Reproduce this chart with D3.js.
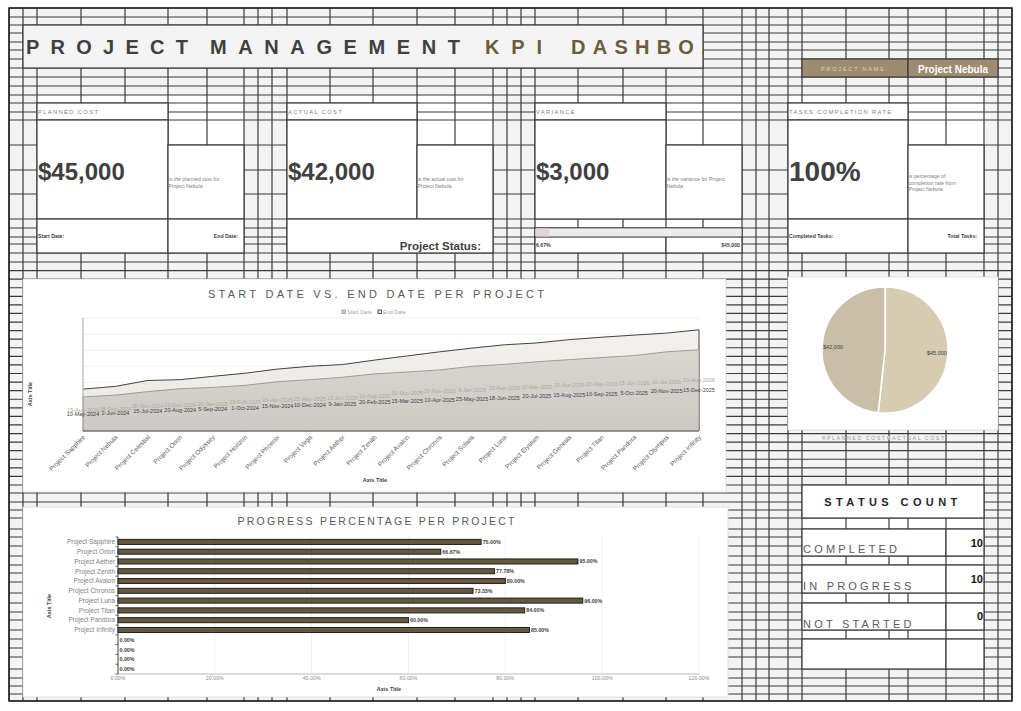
<!DOCTYPE html>
<html><head><meta charset="utf-8">
<script src="https://cdn.jsdelivr.net/npm/d3@7"></script>
<style>body{margin:0;background:#fff;} svg{display:block;font-family:"Liberation Sans",Arial,sans-serif;}</style>
</head><body><svg id="c" width="1021" height="711"></svg>
<script>
// ---------------- DATA ----------------
const titleWords = ["PROJECT", "MANAGEMENT", "KPI", "DASHBOARD"];
const projectName = "Project Nebula";
const kpiTitles = ["PLANNED COST", "ACTUAL COST", "VARIANCE", "TASKS COMPLETION RATE"];
const plannedCost = 45000;
const actualCost = 42000;
const varianceValue = 3000;
const completionRate = 1.0;
const kpiNotes = [["is the planned cost for", "Project Nebula"], ["is the actual cost for", "Project Nebula"],
                  ["is the variance for Project", "Nebula"], ["is percentage of", "completion rate from", "Project Nebula"]];

const areaProjects = ["Project Sapphire","Project Nebula","Project Celestial","Project Orion","Project Odyssey","Project Horizon",
  "Project Phoenix","Project Vega","Project Aether","Project Zenith","Project Avalon","Project Chronos","Project Solaris",
  "Project Luna","Project Elysium","Project Genesis","Project Titan","Project Pandora","Project Olympus","Project Infinity"];
const startDates = ["10-May-2024","2-Jun-2024","15-Jul-2024","20-Aug-2024","5-Sep-2024","1-Oct-2024","15-Nov-2024","10-Dec-2024",
  "9-Jan-2025","20-Feb-2025","15-Mar-2025","10-Apr-2025","25-May-2025","18-Jun-2025","20-Jul-2025","15-Aug-2025","10-Sep-2025",
  "5-Oct-2025","20-Nov-2025","15-Dec-2025"];
const endDates = ["15-Aug-2024","18-Sep-2024","30-Nov-2024","10-Dec-2024","20-Jan-2025","28-Feb-2025","20-Apr-2025","25-May-2025",
  "15-Jun-2025","10-Aug-2025","30-Sep-2025","20-Nov-2025","5-Jan-2026","15-Feb-2026","10-Mar-2026","20-Apr-2026","20-May-2026",
  "15-Jun-2026","10-Jul-2026","20-Aug-2026"];
const areaAxisSerialMin = 45000, areaAxisSerialMax = 46400, areaAxisStep = 200;
const areaSeriesNames = ["Start Date", "End Date"];

const barProjects = ["Project Sapphire","Project Orion","Project Aether","Project Zenith","Project Avalon","Project Chronos",
  "Project Luna","Project Titan","Project Pandora","Project Infinity","","","",""];
const barProgress = [0.75, 0.6667, 0.95, 0.7778, 0.80, 0.7333, 0.96, 0.84, 0.60, 0.85, 0, 0, 0, 0];
const barTicks = [0, 0.2, 0.4, 0.6, 0.8, 1.0, 1.2];

const costLabels = ["PLANNED COST", "ACTUAL COST"];
const costValues = [45000, 42000];

const statusLabels = ["COMPLETED", "IN PROGRESS", "NOT STARTED"];
const statusCounts = [10, 10, 0];

// ---------------- LAYOUT ----------------
const svg = d3.select("#c");
const LINE = "#3a3a3a";
const colLines = [9,23,37,81,125,168,207,244,258,272,287,330,373,417,455,493,507,521,535,578,623,666,703,742,756,769,788,802,846,889,908,946,984,998,1012];
const rowLines = [8,17,25,33,42,50,59,68,77,86,95,103,112,120,145,170,194,219,228,237,244,253,262]
  .concat(d3.range(1,27).map(k => 262 + k*(485-262)/26))
  .concat([493,502,510,518,529,537,546,556,565,573,582,593,603,612,620,630,639,648,657,669,678,686,694,701]);

function rect(x0,y0,x1,y1,fill,stroke){
  return svg.append("rect").attr("x",x0).attr("y",y0).attr("width",x1-x0).attr("height",y1-y0)
    .attr("fill",fill).attr("stroke",stroke||"none").attr("stroke-width",1.2);
}
function txt(g,x,y,s,o={}){
  const t = g.append("text").attr("x",x).attr("y",y).text(s)
    .attr("font-size",o.fs||6).attr("fill",o.fill||"#404040")
    .attr("font-weight",o.fw||"normal").attr("text-anchor",o.anchor||"start");
  if(o.ls!=null) t.attr("letter-spacing",o.ls);
  if(o.tl) t.attr("textLength",o.tl).attr("lengthAdjust","spacing");
  if(o.ff) t.attr("font-family",o.ff);
  return t;
}

// sheet background
rect(9,8,1012,701,"#f3f3f3");
// white blocks
const cardX = [37,287,535,788], cardR = [244,493,742,984], noteX = [168,417,666,908];
cardX.forEach((x,i)=>rect(x,95,cardR[i],253,"#fff"));
rect(802,485,984,669,"#fff");

// grid
const grid = svg.append("g").attr("stroke",LINE).attr("stroke-width",1.2);
colLines.forEach(x=>grid.append("line").attr("x1",x).attr("x2",x).attr("y1",8).attr("y2",701));
rowLines.forEach(y=>grid.append("line").attr("x1",9).attr("x2",1012).attr("y1",y).attr("y2",y));
svg.append("rect").attr("x",9).attr("y",8).attr("width",1003).attr("height",693).attr("fill","none").attr("stroke","#222").attr("stroke-width",1.5);

// merged cells
const merged = [];
cardX.forEach((x,i)=>{
  merged.push([x,103,noteX[i],120],[x,120,noteX[i],219],[noteX[i],145,cardR[i],219]);
});
merged.push([37,219,168,253],[168,219,244,253],[287,219,493,253],
            [535,228,742,237],[535,237,666,253],[666,237,742,253],
            [788,219,908,253],[908,219,984,253],
            [802,485,984,518],[802,529,946,556],[946,529,984,556],[802,565,946,593],[946,565,984,593],
            [802,603,946,630],[946,603,984,630],[802,639,946,669],[946,639,984,669]);
merged.forEach(m=>rect(m[0],m[1],m[2],m[3],"#fff",LINE));

// title band
rect(23,25,703,68,"#f4f4f4",LINE);
svg.append("clipPath").attr("id","tclip").append("rect").attr("x",23).attr("y",25).attr("width",680).attr("height",43);
const tg = svg.append("g").attr("clip-path","url(#tclip)");
const titleX = [26,210,485,571], titleLen = [162,250,57,188];
titleWords.forEach((w,i)=>txt(tg,titleX[i],54,w,{fs:20,fw:"bold",fill:i<2?"#404040":"#6b5c3e",tl:titleLen[i]}));

// project name band
rect(802,59,908,77,"#9d8c6f",LINE);
rect(908,59,998,77,"#9d8c6f",LINE);
txt(svg,855,71,"PROJECT NAME:",{fs:5.5,fill:"#ddd4c3",ls:1.8,anchor:"middle"});
txt(svg,953,73,projectName,{fs:10,fw:"bold",fill:"#fff",anchor:"middle"});

// KPI cards
const fmtMoney = d3.format("$,");
const kpiText = [fmtMoney(plannedCost), fmtMoney(actualCost), fmtMoney(varianceValue), d3.format(".0%")(completionRate)];
cardX.forEach((x,i)=>{
  txt(svg,x+1,114,kpiTitles[i],{fs:5.8,fill:"#7f7f7f",ls:1.35});
  txt(svg,x+1,i===3?181:180,kpiText[i],{fs:i===3?28:24,fw:"bold",fill:"#404040"});
  const n = kpiNotes[i].length;
  kpiNotes[i].forEach((s,j)=>txt(svg,noteX[i]+0.5,184.5-(n-1)*3.3+j*6.7,s,{fs:5.2,fill:"#7f7f7f"}));
});
txt(svg,38,238,"Start Date:",{fs:5.2,fw:"bold",fill:"#404040"});
txt(svg,238,238,"End Date:",{fs:5.2,fw:"bold",fill:"#404040",anchor:"end"});
txt(svg,481,250,"Project Status:",{fs:11.5,fw:"bold",fill:"#404040",anchor:"end"});
// variance progress bar
const varPct = varianceValue/plannedCost;
const pb = d3.scaleLinear().domain([0,1]).range([535,742]);
svg.append("rect").attr("x",pb(0)+0.6).attr("y",228.6).attr("width",pb(1)-pb(0)-1.2).attr("height",7.8).attr("fill","#ececec");
svg.append("rect").attr("x",pb(0)+0.6).attr("y",228.6).attr("width",pb(varPct)-pb(0)).attr("height",7.8).attr("fill","#e2d7d0");
txt(svg,536,247,d3.format(".2%")(varPct),{fs:5.2,fw:"bold"});
txt(svg,740,247,fmtMoney(plannedCost),{fs:5.2,fw:"bold",anchor:"end"});
txt(svg,789,238,"Completed Tasks:",{fs:5.2,fw:"bold"});
txt(svg,977,238,"Total Tasks:",{fs:5.2,fw:"bold",anchor:"end"});

// ---------------- AREA CHART ----------------
rect(23,279,726,492,"#fff","#d9d9d9").attr("stroke-width",0.8);
const ag = svg.append("g");
txt(ag,376,298,"START DATE VS. END DATE PER PROJECT",{fs:11,fill:"#595959",anchor:"middle",tl:336});
const parse = d3.utcParse("%d-%b-%Y");
const serial = s => (parse(s) - Date.UTC(1899,11,30))/864e5;
const xA = d3.scalePoint().domain(areaProjects).range([83,699]);
const yA = d3.scaleLinear().domain([areaAxisSerialMin, areaAxisSerialMax]).range([431,318]);
d3.range(areaAxisSerialMin, areaAxisSerialMax+1, areaAxisStep).forEach(v=>{
  ag.append("line").attr("x1",83).attr("x2",699).attr("y1",yA(v)).attr("y2",yA(v)).attr("stroke","#ececec").attr("stroke-width",0.8);
});
const areaData = areaProjects.map((p,i)=>({p, s:serial(startDates[i]), e:serial(endDates[i]), sl:startDates[i], el:endDates[i]}));
const defs = svg.append("defs");
const g1 = defs.append("linearGradient").attr("id","gEnd").attr("x1",0).attr("y1",0).attr("x2",0).attr("y2",1);
g1.append("stop").attr("offset","0%").attr("stop-color","#f2f1ee");
g1.append("stop").attr("offset","100%").attr("stop-color","#e9e7e3");
const g2 = defs.append("linearGradient").attr("id","gStart").attr("x1",0).attr("y1",0).attr("x2",0).attr("y2",1);
g2.append("stop").attr("offset","0%").attr("stop-color","#d9d6d2");
g2.append("stop").attr("offset","100%").attr("stop-color","#cdcac6");
const yBase = yA(areaAxisSerialMin);
ag.append("path").datum(areaData).attr("d",d3.area().x(d=>xA(d.p)).y0(yBase).y1(d=>yA(d.e)))
  .attr("fill","url(#gEnd)").attr("stroke","none");
ag.append("path").datum(areaData).attr("d",d3.line().x(d=>xA(d.p)).y(d=>yA(d.e)))
  .attr("fill","none").attr("stroke","#4a4230").attr("stroke-width",1);
ag.append("line").attr("x1",699).attr("x2",699).attr("y1",yA(areaData[19].e)).attr("y2",yBase).attr("stroke","#4a4230").attr("stroke-width",1);
ag.append("path").datum(areaData).attr("d",d3.area().x(d=>xA(d.p)).y0(yBase).y1(d=>yA(d.s)))
  .attr("fill","url(#gStart)").attr("stroke","#8f8c87").attr("stroke-width",0.8);
ag.append("line").attr("x1",83).attr("x2",83).attr("y1",318).attr("y2",yBase).attr("stroke","#a6a6a6").attr("stroke-width",1);
ag.append("line").attr("x1",83).attr("x2",699).attr("y1",yBase).attr("y2",yBase).attr("stroke","#7f7f7f").attr("stroke-width",1.6);
areaData.forEach(d=>{
  txt(ag,xA(d.p),(yA(d.e)+yBase)/2+2,d.el,{fs:5.5,fill:"#b3a98f",anchor:"middle"});
});
areaData.forEach(d=>{
  txt(ag,xA(d.p),(yA(d.s)+yBase)/2+2,d.sl,{fs:5.5,fill:"#3f3f3f",anchor:"middle"});
});
areaProjects.forEach(p=>{
  ag.append("text").attr("transform",`translate(${xA(p)+1},${yBase+5}) rotate(-45)`).attr("text-anchor","end")
    .attr("dy","0.35em").attr("font-size",6.5).attr("fill","#595959").text(p);
});
ag.append("text").attr("transform","translate(32,394) rotate(-90)").attr("text-anchor","middle").attr("font-size",5.5).attr("font-weight","bold").attr("fill","#404040").text("Axis Title");
txt(ag,375,482,"Axis Title",{fs:5.5,fw:"bold",anchor:"middle"});
// legend
ag.append("rect").attr("x",342).attr("y",310).attr("width",3.5).attr("height",3.5).attr("fill","#d3d0cc").attr("stroke","#8f8c87").attr("stroke-width",0.7);
txt(ag,347,314,areaSeriesNames[0],{fs:5.5,fill:"#a6a6a6"});
ag.append("rect").attr("x",378).attr("y",310).attr("width",3.5).attr("height",3.5).attr("fill","#efeeea").attr("stroke","#4a4230").attr("stroke-width",0.9);
txt(ag,383,314,areaSeriesNames[1],{fs:5.5,fill:"#a6a6a6"});

// ---------------- PIE ----------------
rect(788,277,998,430,"#fff","#d9d9d9").attr("stroke-width",0.8);
const pg = svg.append("g").attr("transform","translate(885,350)");
const pieColors = ["#d6ccb2","#c9bfa6"];
const arcs = d3.pie().sort(null)(costValues);
const arc = d3.arc().innerRadius(0).outerRadius(63);
const lblArc = d3.arc().innerRadius(52).outerRadius(52);
pg.selectAll("path").data(arcs).join("path").attr("d",arc).attr("fill",(d,i)=>pieColors[i]).attr("stroke","#fff").attr("stroke-width",1.5);
arcs.forEach(a=>{
  const c = lblArc.centroid(a);
  txt(pg,c[0],c[1]+2,fmtMoney(a.data),{fs:5.5,fill:"#404040",anchor:"middle"});
});
const legX = [822,887];
costLabels.forEach((l,i)=>{
  svg.append("rect").attr("x",legX[i]).attr("y",436).attr("width",3.5).attr("height",3.5).attr("fill",pieColors[i]);
  txt(svg,legX[i]+5,440,l,{fs:5.5,fill:"#9a9a9a",ls:1.4});
});

// ---------------- BAR CHART ----------------
rect(23,507,728,697,"#fff","#d9d9d9").attr("stroke-width",0.8);
const bg = svg.append("g");
txt(bg,376,525,"PROGRESS PERCENTAGE PER PROJECT",{fs:10.5,fill:"#595959",anchor:"middle",tl:277});
const xB = d3.scaleLinear().domain([0,1.2]).range([118,699]);
const yB = d3.scaleBand().domain(d3.range(barProjects.length)).range([537,674]).paddingInner(0.48).paddingOuter(0.24);
barTicks.forEach(t=>{
  if(t>0) bg.append("line").attr("x1",xB(t)).attr("x2",xB(t)).attr("y1",537).attr("y2",674).attr("stroke","#ececec").attr("stroke-width",0.8);
  txt(bg,xB(t),680,d3.format(".2%")(t),{fs:5.3,fill:"#8c8c8c",anchor:"middle"});
});
bg.append("line").attr("x1",118).attr("x2",699).attr("y1",674).attr("y2",674).attr("stroke","#d0d0d0").attr("stroke-width",1.6);
barProgress.forEach((v,i)=>{
  if(v>0) bg.append("rect").attr("x",xB(0)).attr("y",yB(i)).attr("width",xB(v)-xB(0)).attr("height",yB.bandwidth())
    .attr("fill","#65583f").attr("stroke","#151515").attr("stroke-width",0.9);
  txt(bg,xB(v)+1.5,yB(i)+yB.bandwidth()/2+2,d3.format(".2%")(v),{fs:5.3,fw:"bold",fill:"#404040"});
  if(barProjects[i]) txt(bg,115,yB(i)+yB.bandwidth()/2+2.3,barProjects[i],{fs:6.5,fill:"#7f7f7f",anchor:"end"});
});
bg.append("line").attr("x1",118).attr("x2",118).attr("y1",537).attr("y2",674).attr("stroke","#404040").attr("stroke-width",1);
d3.range(barProjects.length+1).forEach(i=>{
  const y = 537 + i*(674-537)/barProjects.length;
  bg.append("line").attr("x1",115.5).attr("x2",118).attr("y1",y).attr("y2",y).attr("stroke","#404040").attr("stroke-width",0.8);
});
bg.append("text").attr("transform","translate(51,606) rotate(-90)").attr("text-anchor","middle").attr("font-size",5.5).attr("font-weight","bold").attr("fill","#404040").text("Axis Title");
txt(bg,389,691,"Axis Title",{fs:5.5,fw:"bold",anchor:"middle"});

// ---------------- STATUS COUNT ----------------
txt(svg,893,506,"STATUS COUNT",{fs:11,fw:"bold",fill:"#262626",anchor:"middle",ls:4.4});
const statusBase = [553,590,628], countBase = [547,583,620];
statusLabels.forEach((l,i)=>{
  txt(svg,803,statusBase[i],l,{fs:11,fill:"#595959",ls:3.2});
  txt(svg,983,countBase[i],String(statusCounts[i]),{fs:11,fw:"bold",fill:"#111",anchor:"end"});
});
</script></body></html>
